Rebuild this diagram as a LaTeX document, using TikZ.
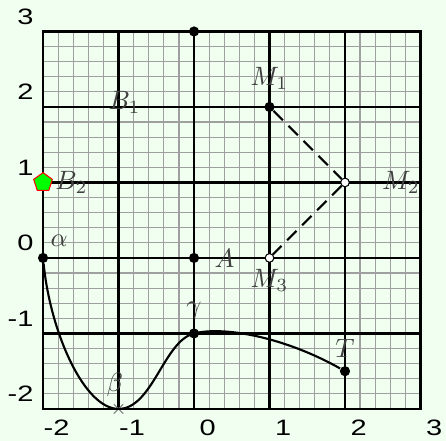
\documentclass[tikz,border=0pt]{standalone}
\usepackage{fontspec}
\setsansfont{Liberation Sans}
\usepackage{graphicx}
\usetikzlibrary{positioning,shapes.geometric,shapes.misc}
\definecolor{paper}{HTML}{F0FFF0}
\definecolor{labelgray}{HTML}{404040}
\newcommand{\axnum}[1]{\scalebox{1.3}[1]{#1}}

\begin{document}
\begin{tikzpicture}[
  dot/.style={circle, fill=black, inner sep=0pt, minimum size=1.35mm},
  hollow/.style={circle, draw=black, fill=white, line width=0.4pt, inner sep=0pt, minimum size=1.15mm},
  lbl/.style={text=labelgray, inner sep=0pt},
  ax/.style={font=\sffamily\fontsize{8.4}{10}\selectfont, inner sep=0pt}]
% background and grid
\fill[paper] (-2.57,-2.424) rectangle (3.338,3.417);
\draw[step=0.2, gray!75, line width=0.45pt] (-2,-2) grid (3,3);
\draw[step=1, line width=0.8pt] (-2,-2) grid (3,3);
\draw[line width=0.8pt] (-2,-2) rectangle (3,3);
% axis numbers
\foreach \v in {-2,...,3} {
  \node[ax, anchor=north] (xl\v) at (\v+0.18,-2.14) {\axnum{\v}};
  \node[ax, anchor=east] (yl\v) at (-2.12,\v+0.2) {\axnum{\v}};
}
% points
\node[dot] (top) at (0,3) {};
\node[dot] (A) at (0,0) {};
\node[dot] (M1) at (1,2) {};
\node[hollow] (M2) at (2,1) {};
\node[hollow] (M3) at (1,0) {};
\node[dot] (alpha) at (-2,0) {};
\node[cross out, draw=gray, line width=0.4pt, inner sep=0pt, minimum size=1.1mm] (beta) at (-1,-2) {};
\node[dot] (gamma) at (0,-1) {};
\node[dot] (T) at (2,-1.5) {};
\node[regular polygon, regular polygon sides=5, draw=red, fill=green, line width=0.4pt, inner sep=0pt, minimum size=2.6mm] (B2) at (-2,1) {};
% curve and dashed path
\draw[line width=0.8pt] (alpha) .. controls (-1.9,-1.0) and (-1.45,-2) .. (beta.center)
  .. controls (-0.55,-2) and (-0.4,-1.1) .. (gamma.center)
  .. controls (0.4,-0.9) and (1.2,-1.05) .. (T);
\draw[line width=0.8pt, dash pattern=on 5pt off 3pt] (M1) -- (M2) -- (M3);
% labels
\node[lbl, right=1.9mm of A] (Alab) {$A$};
\node[lbl, above=1.5mm of M1] (M1lab) {$M_1$};
\node[lbl, right=4.2mm of M2] (M2lab) {$M_2$};
\node[lbl, below=0.8mm of M3] (M3lab) {$M_3$};
\node[lbl] (B1) at (-0.92,2.06) {$B_1$};
\node[lbl, right=0.4mm of B2] (B2lab) {$B_2$};
\node[lbl, above right=0.9mm and 0.4mm of alpha] (alab) {$\alpha$};
\node[lbl, above=0.9mm of beta, xshift=-0.5mm] (blab) {$\beta$};
\node[lbl, above=1.2mm of gamma] (glab) {$\gamma$};
\node[lbl, above=1mm of T] (Tlab) {$T$};
\end{tikzpicture}
\end{document}
